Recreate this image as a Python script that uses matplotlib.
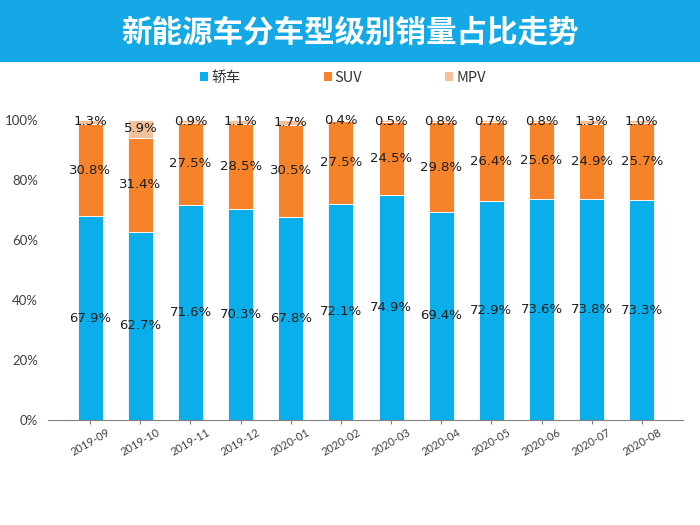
import numpy as np
import matplotlib
matplotlib.use("Agg")
import matplotlib.pyplot as plt
from matplotlib.patches import Rectangle, Patch

plt.rcParams['font.family'] = ['Noto Sans CJK SC', 'DejaVu Sans']

months = ["2019-09", "2019-10", "2019-11", "2019-12", "2020-01", "2020-02",
          "2020-03", "2020-04", "2020-05", "2020-06", "2020-07", "2020-08"]
sedan = [67.9, 62.7, 71.6, 70.3, 67.8, 72.1, 74.9, 69.4, 72.9, 73.6, 73.8, 73.3]
suv = [30.8, 31.4, 27.5, 28.5, 30.5, 27.5, 24.5, 29.8, 26.4, 25.6, 24.9, 25.7]
mpv = [1.3, 5.9, 0.9, 1.1, 1.7, 0.4, 0.5, 0.8, 0.7, 0.8, 1.3, 1.0]
series_names = ["轿车", "SUV", "MPV"]
colors = ["#0AAEEB", "#F6822A", "#F3C19C"]

fig = plt.figure(figsize=(7, 5.25), dpi=100)

# title banner
fig.patches.append(Rectangle((0, 1 - 62 / 525), 1, 62 / 525, transform=fig.transFigure,
                             facecolor="#14A9E6", edgecolor="none", zorder=0))
fig.text(0.5, 1 - 33 / 525, "新能源车分车型级别销量占比走势", color="white",
         fontsize=22, fontweight="bold", ha="center", va="center")

ax = fig.add_axes([48 / 700, 105 / 525, 635 / 700, 300 / 525])
x = np.arange(len(months))
bottom = np.zeros(len(months))
for vals, name, col in zip([sedan, suv, mpv], series_names, colors):
    v = np.array(vals) / 100.0
    ax.bar(x, v, 0.5, bottom=bottom, color=col, edgecolor="white", linewidth=0.6, label=name)
    for xi, b, h, raw in zip(x, bottom, v, vals):
        ax.text(xi, b + h / 2, f"{raw:.1f}%", ha="center", va="center",
                fontsize=9.5, color="#1e1e1e", family="DejaVu Sans")
    bottom += v

ax.set_xlim(-0.84, 11.82)
ax.set_ylim(0, 1.0)
ax.set_yticks(np.arange(0, 1.01, 0.2))
ax.set_yticklabels([f"{int(t * 100)}%" for t in np.arange(0, 1.01, 0.2)],
                   family="Lato", fontsize=9.5, color="#404040")
ax.set_xticks(x)
ax.set_xticklabels(months, rotation=30, fontsize=8, color="#404040", family="Lato")
for s in ["top", "right", "left"]:
    ax.spines[s].set_visible(False)
ax.spines["bottom"].set_color("#808080")
ax.tick_params(axis="y", length=0, pad=7)
ax.tick_params(axis="x", length=3, color="#808080", pad=2)

handles = [Patch(facecolor=c, edgecolor="none") for c in colors]
fig.legend(handles, series_names, loc="center", bbox_to_anchor=(0.49, 1 - 78 / 525),
           ncol=3, frameon=False, fontsize=10.5, handlelength=0.55, handleheight=0.55,
           handletextpad=0.2, columnspacing=5.7, labelcolor="#333333")

fig.savefig("out.png", dpi=100)
